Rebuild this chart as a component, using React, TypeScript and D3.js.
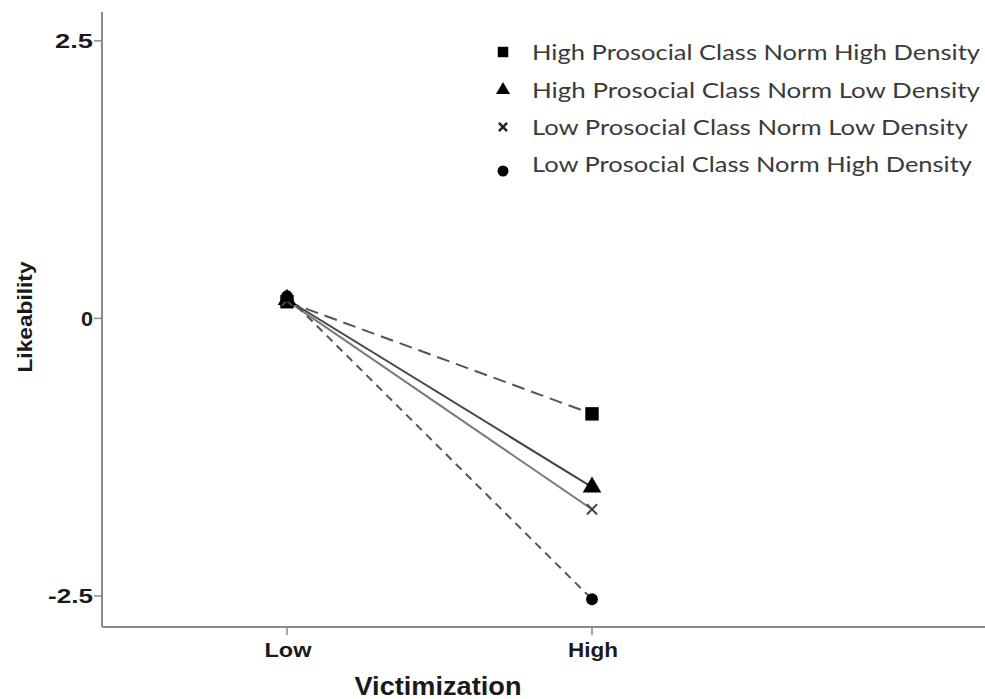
import React, { useRef, useEffect } from "react";
import * as d3 from "d3";

const categories = ["Low", "High"];
const seriesNames = [
  "High Prosocial Class Norm High Density",
  "High Prosocial Class Norm Low Density",
  "Low Prosocial Class Norm Low Density",
  "Low Prosocial Class Norm High Density",
];
const hiHigh = [0.15, -0.86];
const hiLow = [0.17, -1.52];
const loLow = [0.16, -1.72];
const loHigh = [0.2, -2.53];
const yTicks = [-2.5, 0, 2.5];
const yTickLabels = ["-2.5", "0", "2.5"];

const W = 985;
const H = 699;

export default function App() {
  const ref = useRef<SVGSVGElement>(null);

  useEffect(() => {
    const svg = d3.select(ref.current);
    svg.selectAll("*").remove();

    const left = 102, top = 12, right = 985, bottom = 627;
    const y = d3.scaleLinear().domain([-2.78, 2.76]).range([bottom, top]);
    const x = d3.scalePoint<string>().domain(categories).range([287, 592]);

    const axisCol = "#8a8a8a";
    const lineCol = "#555";
    const boldFont = "Liberation Sans, Arial, sans-serif";

    // axes
    svg.append("line").attr("x1", left).attr("x2", left).attr("y1", top).attr("y2", bottom)
      .attr("stroke", axisCol).attr("stroke-width", 2);
    svg.append("line").attr("x1", left).attr("x2", right).attr("y1", bottom).attr("y2", bottom)
      .attr("stroke", axisCol).attr("stroke-width", 2);

    const yLabelW: Record<string, number> = { "-2.5": 45, "0": 12, "2.5": 38 };
    yTicks.forEach((t, i) => {
      svg.append("line").attr("x1", left - 8).attr("x2", left).attr("y1", y(t)).attr("y2", y(t))
        .attr("stroke", axisCol).attr("stroke-width", 1.5);
      svg.append("text").attr("x", 93).attr("y", y(t)).attr("dy", "0.36em")
        .attr("text-anchor", "end").attr("font-family", boldFont)
        .attr("font-weight", "bold").attr("font-size", 20).attr("fill", "#1a1a1a")
        .attr("textLength", yLabelW[yTickLabels[i]]).attr("lengthAdjust", "spacingAndGlyphs")
        .text(yTickLabels[i]);
    });
    const xLabelW: Record<string, number> = { Low: 47, High: 50 };
    categories.forEach((c) => {
      svg.append("line").attr("x1", x(c)!).attr("x2", x(c)!).attr("y1", bottom).attr("y2", bottom + 8)
        .attr("stroke", axisCol).attr("stroke-width", 1.5);
      svg.append("text").attr("x", x(c)! + 1).attr("y", 657).attr("text-anchor", "middle")
        .attr("font-family", boldFont).attr("font-weight", "bold")
        .attr("font-size", 20).attr("fill", "#1a1a1a")
        .attr("textLength", xLabelW[c]).attr("lengthAdjust", "spacingAndGlyphs").text(c);
    });

    svg.append("text").attr("x", 438).attr("y", 695).attr("text-anchor", "middle")
      .attr("font-family", boldFont).attr("font-weight", "bold")
      .attr("font-size", 25).attr("fill", "#1a1a1a")
      .attr("textLength", 167).attr("lengthAdjust", "spacingAndGlyphs").text("Victimization");
    svg.append("text").attr("transform", `translate(32,317) rotate(-90)`).attr("text-anchor", "middle")
      .attr("font-family", boldFont).attr("font-weight", "bold")
      .attr("font-size", 21).attr("fill", "#1a1a1a")
      .attr("textLength", 111).attr("lengthAdjust", "spacingAndGlyphs").text("Likeability");

    const series = [
      { name: seriesNames[0], values: hiHigh, dash: "13,7", color: lineCol, width: 2, sym: d3.symbolSquare, size: 180, legSize: 110, fill: true },
      { name: seriesNames[1], values: hiLow, dash: null, color: "#444", width: 2, sym: d3.symbolTriangle, size: 150, legSize: 85, fill: true },
      { name: seriesNames[2], values: loLow, dash: null, color: "#7a7a7a", width: 2, sym: d3.symbolTimes, size: 70, legSize: 45, fill: false },
      { name: seriesNames[3], values: loHigh, dash: "8,6", color: lineCol, width: 2, sym: d3.symbolCircle, size: 110, legSize: 95, fill: true },
    ];

    const line = d3.line<number>().x((_, i) => x(categories[i])!).y((d) => y(d));

    series.forEach((s) => {
      svg.append("path").datum(s.values).attr("d", line).attr("fill", "none")
        .attr("stroke", s.color).attr("stroke-width", s.width)
        .attr("stroke-dasharray", s.dash);
    });

    series.forEach((s) => {
      s.values.forEach((v, i) => {
        svg.append("path").attr("d", d3.symbol(s.sym, s.size)())
          .attr("transform", `translate(${x(categories[i])},${y(v)})`)
          .attr("fill", s.fill ? "#000" : "none")
          .attr("stroke", s.fill ? "none" : "#444").attr("stroke-width", 2);
      });
    });

    // legend
    const legY = [52, 90, 127, 164];
    series.forEach((s, i) => {
      svg.append("path").attr("d", d3.symbol(s.sym, s.legSize)())
        .attr("transform", `translate(503,${legY[i] + (i === 3 ? 7 : 0)})`)
        .attr("fill", s.fill ? "#000" : "none")
        .attr("stroke", s.fill ? "none" : "#222").attr("stroke-width", 2.5);
      svg.append("text").attr("x", 532).attr("y", legY[i]).attr("dy", "0.35em")
        .attr("font-family", "Lato, Noto Sans, sans-serif").attr("font-size", 22)
        .attr("fill", "#3a3a3a").attr("textLength", i === 0 || i === 1 ? 448 : i === 2 ? 436 : 440)
        .attr("lengthAdjust", "spacingAndGlyphs").text(s.name);
    });
  }, []);

  return (
    <svg ref={ref} width={W} height={H}
      style={{ position: "absolute", left: 0, top: 0, background: "#fff" }} />
  );
}
